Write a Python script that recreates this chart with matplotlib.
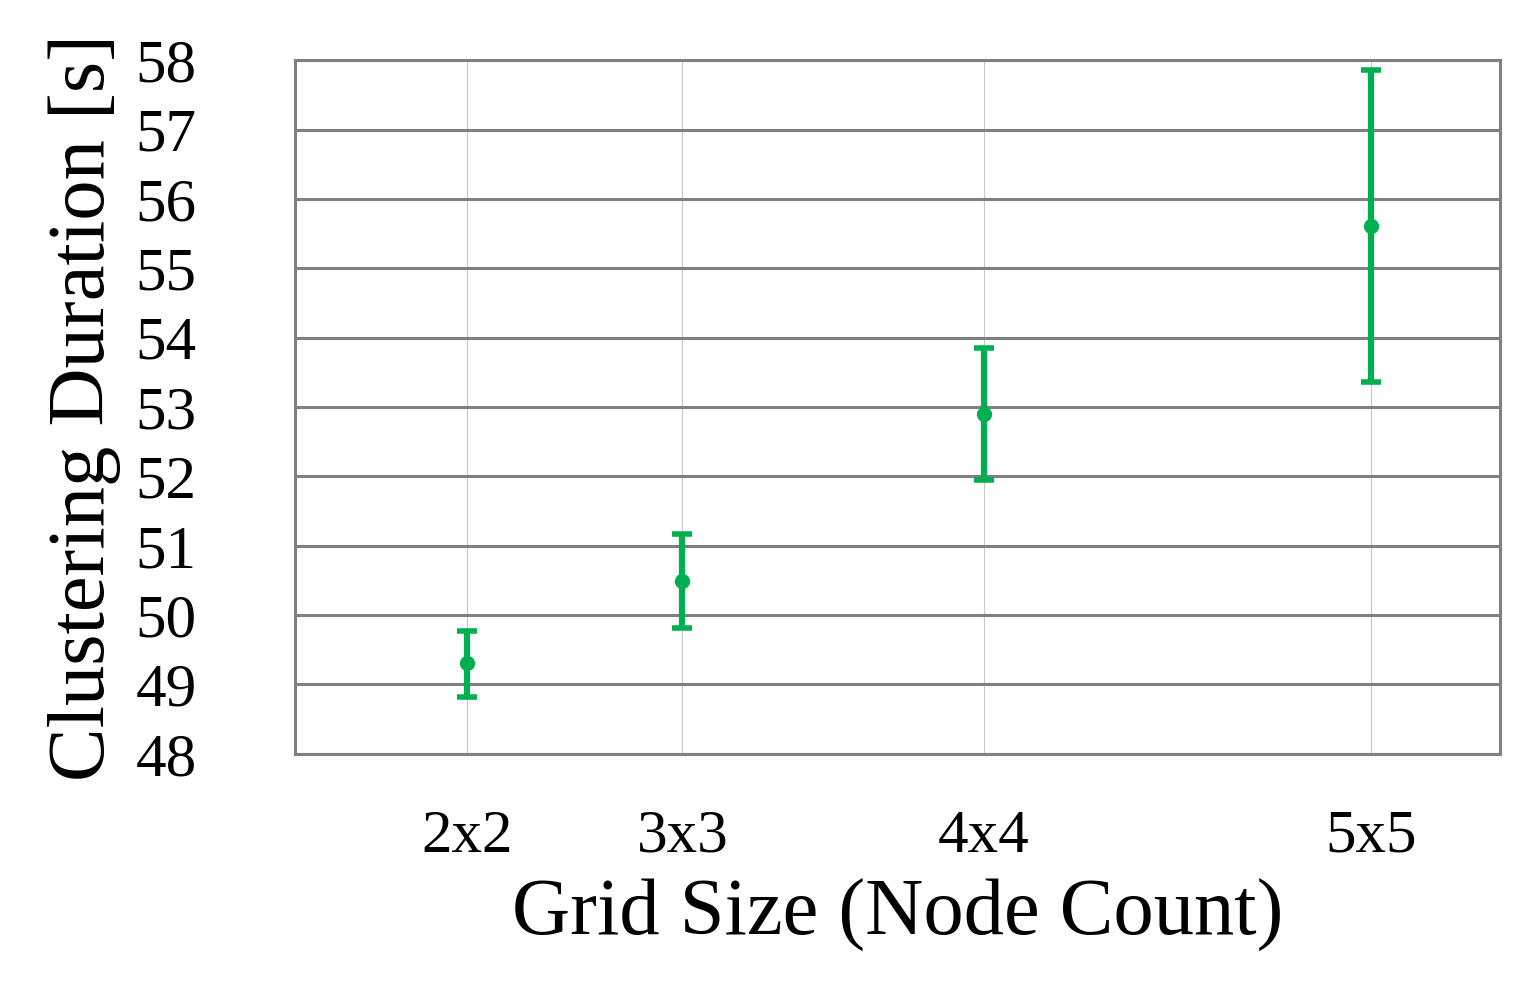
import matplotlib
matplotlib.use("Agg")
import matplotlib.pyplot as plt

grid_labels = ["2x2", "3x3", "4x4", "5x5"]
node_counts = [4, 9, 16, 25]
mean_dur = [49.31, 50.49, 52.90, 55.61]
err_upper = [49.77, 51.17, 53.85, 57.86]
err_lower = [48.82, 49.82, 51.95, 53.36]

GREEN = "#00B050"

plt.rcParams["font.family"] = ["Liberation Serif", "DejaVu Serif"]

fig = plt.figure(figsize=(15.37, 9.88), dpi=100)
ax = fig.add_axes([0.192, 0.237, 0.784, 0.702])

yerr = [[m - lo for m, lo in zip(mean_dur, err_lower)],
        [hi - m for m, hi in zip(mean_dur, err_upper)]]
ax.errorbar(node_counts, mean_dur, yerr=yerr, fmt="o", color=GREEN,
            ms=10, elinewidth=4.5, capsize=7, capthick=4, zorder=3)

ax.set_xlim(0, 28)
ax.set_ylim(48, 58)
ax.set_yticks(range(48, 59))
ax.set_xticks(node_counts)
ax.set_xticklabels(grid_labels)
ax.tick_params(axis="both", length=0, labelsize=44)
ax.tick_params(axis="x", pad=40)
ax.tick_params(axis="y", pad=115)
for lbl in ax.get_yticklabels():
    lbl.set_horizontalalignment("left")

ax.yaxis.grid(True, color="#808080", linewidth=2.2)
ax.xaxis.grid(True, color="#c8c8c8", linewidth=0.8)
ax.set_axisbelow(True)
for s in ax.spines.values():
    s.set_color("#808080")
    s.set_linewidth(2.2)

ax.set_xlabel("Grid Size (Node Count)", fontsize=58, labelpad=10)
ax.set_ylabel("Clustering Duration [s]", fontsize=58, labelpad=10)

fig.savefig("out.png", dpi=100)
